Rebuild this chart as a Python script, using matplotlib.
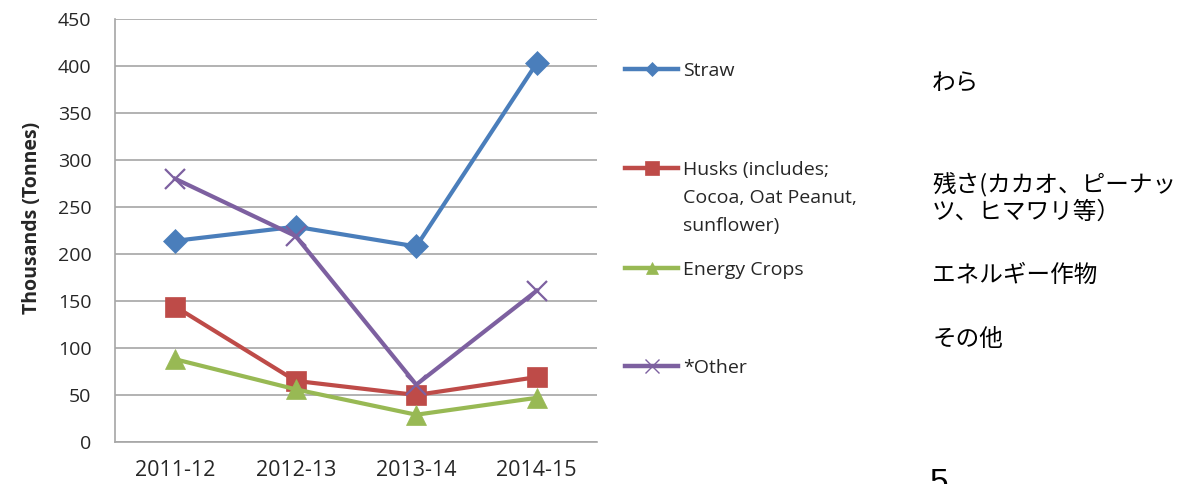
import matplotlib.pyplot as plt
from matplotlib.lines import Line2D

#Data
years = ['2011-12', '2012-13', '2013-14', '2014-15']
straw = [214, 229, 208, 403]
husks = [144, 65, 50, 69]
energy = [88, 56, 29, 47]
other = [280, 219, 61, 161]

labels = ['Straw', 'Husks (includes;', 'Energy Crops', '*Other']
husks_more = ['Cocoa, Oat Peanut,', 'sunflower)']
jp_labels = ['わら', '残さ(カカオ、ピーナッ\nツ、ヒマワリ等）', 'エネルギー作物', 'その他']

colors = ['#4A7EBB', '#BE4B48', '#98B954', '#7D60A0']
markers = ['D', 's', '^', 'x']
msizes = [12, 15, 14, 15]
leg_ms = [7, 10, 9, 10]

plt.rcParams['font.family'] = ['Open Sans', 'DejaVu Sans']

fig = plt.figure(figsize=(11.89, 4.84), dpi=100)
ax = fig.add_axes([0.0967, 0.0868, 0.4054, 0.874])

series = [straw, husks, energy, other]
x = range(len(years))
for s, c, m, ms in zip(series, colors, markers, msizes):
    ax.plot(x, s, color=c, lw=3, marker=m, markersize=ms,
            markeredgewidth=1.6 if m == 'x' else 0.5, markeredgecolor=c, zorder=3)

ax.set_xlim(-0.5, 3.5)
ax.set_ylim(0, 450)
ax.set_yticks(range(0, 451, 50))
ax.set_xticks(list(x))
ax.set_xticklabels(years)
ax.grid(axis='y', color='#A6A6A6', lw=1.2)
ax.set_axisbelow(True)
for sp in ['top', 'right']:
    ax.spines[sp].set_visible(False)
ax.spines['left'].set_color('#A6A6A6')
ax.spines['bottom'].set_color('#A6A6A6')
ax.spines['left'].set_linewidth(1.2)
ax.spines['bottom'].set_linewidth(1.2)
ax.tick_params(axis='both', length=0, labelsize=14, colors='#262626')
ax.tick_params(axis='x', pad=13, labelsize=15.5)
ax.tick_params(axis='y', pad=17)
ax.set_ylabel('Thousands (Tonnes)', fontsize=14, fontweight='bold', color='#262626')
ax.yaxis.set_label_coords(-0.152, 0.53)

# legend, one entry each so the gaps follow the picture
leg_y = [71, 170, 270, 368]
legends = []
for c, m, ms, lab, y in zip(colors, markers, leg_ms, labels, leg_y):
    h = Line2D([], [], color=c, lw=3.2, marker=m, markersize=ms, markeredgecolor=c,
               markeredgewidth=1 if m == 'x' else 0.5)
    lg = fig.legend(handles=[h], labels=[lab], loc='center left',
                    bbox_to_anchor=(0.526, 1 - y / 484), frameon=False, fontsize=14,
                    handlelength=2.7, handletextpad=0.25, borderaxespad=0, borderpad=0)
    for t in lg.get_texts():
        t.set_color('#262626')
    legends.append(lg)

fig.canvas.draw()
tb = legends[1].get_texts()[0].get_window_extent()
for i, line in enumerate(husks_more):
    fig.text(tb.x0 / fig.bbox.width, 1 - (170 + 28 * (i + 1)) / 484, line, fontsize=14,
             color='#262626', va='center', ha='left')

jp_y = [84, 198, 275, 340]
for lab, y in zip(jp_labels, jp_y):
    fig.text(0.784, 1 - y / 484, lab, fontsize=17, family=['Noto Sans CJK JP', 'DejaVu Sans'],
             va='center', ha='left', linespacing=1.2)

fig.text(0.782, 1 - 468 / 484, '5', fontsize=24, family='Liberation Sans', ha='left', va='top')

plt.savefig('out.png', dpi=100)
